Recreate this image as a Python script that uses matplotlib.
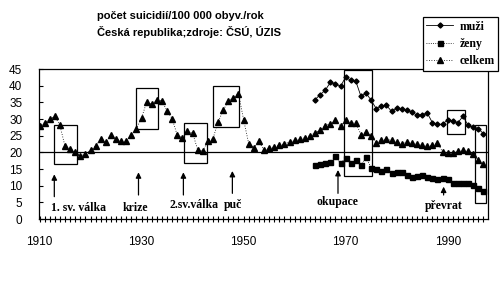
import matplotlib
matplotlib.use("Agg")
import matplotlib.pyplot as plt
from matplotlib.patches import Rectangle
import numpy as np

# ---- data ----
years_total = list(range(1910, 1998))
celkem = [27.9, 28.9, 29.9, 30.8, 28.1, 21.8, 21.1, 20.1, 18.9, 19.6,
          20.6, 21.9, 24.0, 23.1, 25.1, 24.1, 23.3, 23.3, 25.1, 27.1,
          30.3, 35.1, 34.4, 35.8, 35.4, 32.4, 30.1, 25.1, 24.3, 26.4,
          25.8, 20.8, 20.4, 23.4, 24.1, 29.1, 32.6, 35.4, 36.4, 37.6,
          29.8, 22.6, 21.4, 23.3, 20.6, 21.3, 21.6, 22.1, 22.6, 23.1,
          23.6, 23.9, 24.4, 25.0, 25.8, 26.8, 28.0, 28.6, 29.6, 27.8,
          29.6, 28.8, 28.8, 25.3, 26.0, 24.8, 22.9, 23.6, 23.9, 23.6,
          23.0, 22.6, 23.1, 22.8, 22.6, 22.1, 21.8, 22.1, 22.8, 20.1,
          19.9, 19.9, 20.3, 20.6, 20.3, 19.6, 17.6, 16.4]
years_sex = list(range(1964, 1998))
muzi = [35.8, 37.3, 38.6, 41.0, 40.6, 39.8, 42.6, 41.6, 41.3, 36.8,
        37.8, 35.6, 33.1, 34.0, 34.1, 32.3, 33.3, 33.0, 32.6, 32.1,
        31.1, 31.3, 31.8, 28.9, 28.4, 28.4, 29.8, 29.3, 28.9, 30.8,
        28.1, 27.6, 27.1, 25.6]
zeny = [16.1, 16.5, 16.8, 17.0, 18.8, 16.7, 18.3, 16.8, 17.6, 16.1,
        18.6, 15.3, 14.9, 14.4, 15.0, 13.7, 14.0, 14.1, 13.2, 12.6,
        12.9, 13.2, 12.6, 12.2, 11.9, 12.2, 11.9, 10.7, 10.7, 10.7,
        10.9, 10.2, 9.2, 8.5]
xtick_years = [1910, 1930, 1950, 1970, 1990]
yticks = [0, 5, 10, 15, 20, 25, 30, 35, 40, 45]

# events: label, arrow year, label year, label y, arrow base, arrow tip
events = [("1. sv. válka", 1912.9, 1917.6, 3.4, 6.7, 13.4),
          ("krize", 1929.4, 1928.7, 3.4, 7.2, 14.0),
          ("2.sv.válka", 1938.2, 1940.2, 4.2, 7.2, 14.0),
          ("puč", 1947.8, 1948.0, 4.2, 7.7, 14.4),
          ("okupace", 1968.5, 1968.3, 5.0, 7.7, 14.7),
          ("převrat", 1989.2, 1989.3, 4.0, 7.2, 9.7)]
# highlight boxes: year0, year1, value0, value1
boxes = [(1912.9, 1917.3, 16.4, 28.1),
         (1929.0, 1933.2, 27.1, 39.4),
         (1938.3, 1942.9, 16.7, 28.8),
         (1944.0, 1949.1, 27.6, 39.8),
         (1969.7, 1975.2, 12.9, 44.6),
         (1989.9, 1993.3, 25.6, 32.6),
         (1995.4, 1997.5, 4.7, 28.1)]

fig = plt.figure(figsize=(5.0, 2.82), dpi=100)
ax = fig.add_axes([39/500, 1-219/282, 449/500, 150/282])

ax.plot(years_sex, muzi, color='k', lw=0.6, ls='-', marker='D', ms=2.6,
        label='muži')
ax.plot(years_sex, zeny, color='k', lw=0.6, ls=':', marker='s', ms=3.6,
        label='ženy')
ax.plot(years_total, celkem, color='k', lw=0.6, ls=(0, (1, 2)), marker='^',
        ms=4.4, label='celkem')

ax.axhline(20, color='k', lw=0.9)

for (y0, y1, v0, v1) in boxes:
    ax.add_patch(Rectangle((y0, v0), y1-y0, v1-v0, fill=False, ec='k', lw=0.9))

for (lab, ax_x, lx, ly, base, tip) in events:
    ax.annotate('', xy=(ax_x, tip), xytext=(ax_x, base),
                arrowprops=dict(arrowstyle='-|>', color='k', lw=0.9,
                                mutation_scale=8, shrinkA=0, shrinkB=0))
    ax.text(lx, ly, lab, ha='center', va='center', fontsize=8.5,
            fontweight='bold', family='Liberation Serif')

ax.set_xlim(1909.9, 1997.9)
ax.set_ylim(0, 45)
ax.set_yticks(yticks)
ax.set_yticklabels([str(v) for v in yticks], family='Liberation Sans', fontsize=8.5)
ax.set_xticks(xtick_years)
ax.set_xticklabels([str(v) for v in xtick_years], family='Liberation Sans', fontsize=8.5)
ax.set_xticks(range(1910, 1998), minor=True)
ax.tick_params(axis='x', which='both', direction='inout', length=5, width=0.8, pad=10)
ax.tick_params(axis='y', which='both', direction='in', length=3, width=0.8, pad=12)
for s in ax.spines.values():
    s.set_linewidth(0.9)

leg = ax.legend(loc='upper right', bbox_to_anchor=(498/500, 1-17/282),
                bbox_transform=fig.transFigure, frameon=True, fancybox=False,
                edgecolor='k', framealpha=1, handlelength=2.3, handletextpad=0.5,
                labelspacing=0.45, borderpad=0.3, borderaxespad=0,
                prop={'family': 'Liberation Serif', 'weight': 'bold', 'size': 8.5})
leg.get_frame().set_linewidth(0.9)

fig.text(97/500, 1-16/282, 'počet suicidií/100 000 obyv./rok', fontsize=8,
         fontweight='bold', family='Liberation Sans', va='center')
fig.text(97/500, 1-32/282, 'Česká republika;zdroje: ČSÚ, ÚZIS', fontsize=8,
         fontweight='bold', family='Liberation Sans', va='center')

fig.savefig('out.png', dpi=100)
